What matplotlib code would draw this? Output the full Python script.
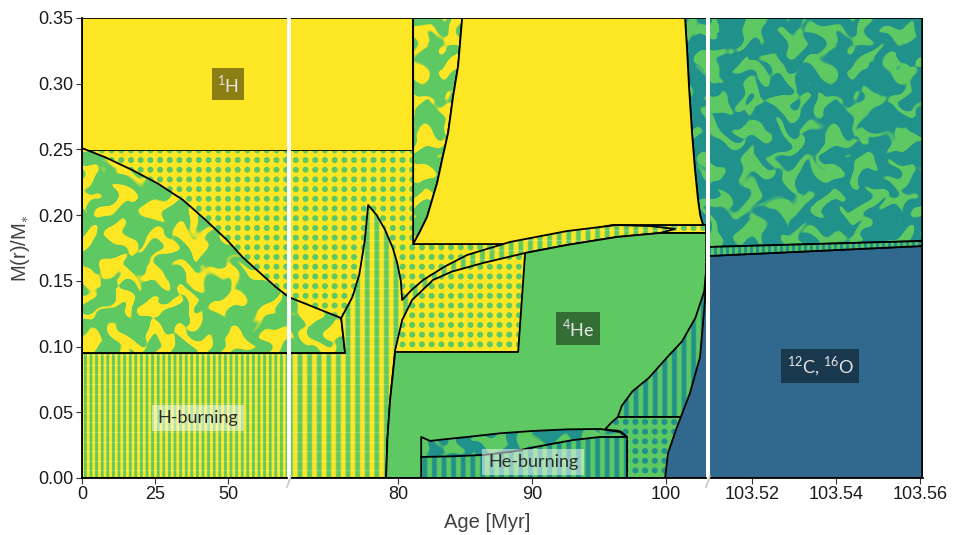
import numpy as np
import matplotlib
matplotlib.use("Agg")
import matplotlib.pyplot as plt
from matplotlib.patches import Polygon
from matplotlib.lines import Line2D
from matplotlib.colors import to_rgb

plt.rcParams['font.family'] = ['Liberation Sans', 'DejaVu Sans']
plt.rcParams['mathtext.fontset'] = 'custom'
plt.rcParams['mathtext.rm'] = 'Lato'

W, H = 956, 535
YELLOW, GREEN, TEAL, BLUE = '#FDE725', '#5EC962', '#21918C', '#31688E'

# broken age axis: three panels
panel_xlim = [(0.0, 70.2), (72.0, 102.985), (103.51, 103.5607)]
panel_ticks = [[0, 25, 50], [80, 90, 100], [103.52, 103.54, 103.56]]
panel_ticklabels = [['0', '25', '50'], ['80', '90', '100'], ['103.52', '103.54', '103.56']]
y_ticks = [0.00, 0.05, 0.10, 0.15, 0.20, 0.25, 0.30, 0.35]
X_END = 103.5605

# zone boundaries, (age [Myr], M(r)/M*)
h_env_base = 0.249
h_burn_top = 0.095
conv_h_top = [(0, 0.251), (8, 0.244), (17.5, 0.234), (26, 0.224), (34.6, 0.2115),
              (42, 0.197), (49.7, 0.181), (55, 0.168), (61, 0.156), (66, 0.146),
              (70, 0.139), (72, 0.137), (74.2, 0.128), (75.75, 0.1217)]
spike_left = [(75.75, 0.1217), (76.6, 0.138), (77.1, 0.155), (77.5, 0.18), (77.76, 0.2077)]
spike_right = [(77.76, 0.2077), (78.4, 0.200), (79.03, 0.1887), (79.6, 0.175),
               (79.93, 0.1636), (80.2, 0.150), (80.30, 0.1354)]
band_upper = [(80.30, 0.1354), (81.0, 0.143), (81.87, 0.1507), (83.5, 0.161), (85.15, 0.1697),
              (88.36, 0.1796), (92.61, 0.1879), (96.34, 0.1925), (98.81, 0.1917), (100.67, 0.1895)]
he_edge = [(100.67, 0.1895), (99.55, 0.1864), (96.34, 0.1834), (92.61, 0.1773), (89.48, 0.1712),
           (86.34, 0.1636), (84.0, 0.157), (82.61, 0.1507), (81.04, 0.1354), (80.30, 0.1202),
           (79.78, 0.0974), (79.40, 0.0593), (79.2, 0.03), (79.10, 0.0)]
he_left = [(79.10, 0.0), (79.2, 0.03), (79.40, 0.0593), (79.78, 0.0959)]
he_top = [(89.48, 0.1712), (92.61, 0.1773), (96.34, 0.1834), (99.55, 0.1864)]
yel_left = [(84.78, 0.35), (84.48, 0.3135), (84.1, 0.29), (83.73, 0.2625), (83.3, 0.243),
            (82.91, 0.2245), (82.16, 0.1986), (81.6, 0.187), (81.12, 0.178)]
yel_right = [(102.76, 0.1925), (102.55, 0.2), (102.39, 0.2115), (102.15, 0.236), (101.94, 0.2625),
             (101.72, 0.297), (101.57, 0.3256), (101.42, 0.35)]
co_shell = [(96.4, 0.0464), (96.7, 0.055), (97.5, 0.066), (98.7, 0.076), (100.1, 0.092),
            (101.2, 0.104), (102.2, 0.122), (102.85, 0.142), (103.0, 0.158)]
co_core = [(99.93, 0.0), (100.15, 0.019), (100.82, 0.0388), (101.79, 0.0647), (102.54, 0.0921),
           (102.91, 0.1354), (103.0, 0.163), (103.51, 0.169), (X_END, 0.1765)]
hb_top = [(81.72, 0.0312), (82.39, 0.0282), (83.5, 0.0295), (85.15, 0.0312), (87.6, 0.034),
          (90.07, 0.0358), (92.6, 0.0370), (95.07, 0.0373), (96.57, 0.035), (97.09, 0.0312)]
hb_split = [(81.72, 0.016), (84.0, 0.0165), (86.34, 0.0175), (88.5, 0.020), (90.6, 0.0243),
            (93.06, 0.0289), (95.07, 0.0312), (97.09, 0.0312)]

fig = plt.figure(figsize=(W / 100, H / 100), dpi=100)
axes = []
for (x0, w) in [(82, 205), (291, 415), (710, 213)]:
    axes.append(fig.add_axes([x0 / W, 57 / H, w / W, 460 / H]))
stripe_period = [5.6, 9.6, 6.0]


def marble(u, v):
    # smooth curly blobs from a gently warped sine field
    x = u / 6.5
    y = v / 6.5
    wx = x + 1.0 * np.sin(0.8 * y + 1.2 * np.sin(0.6 * x)) + 0.5 * np.sin(1.6 * y + 0.4)
    wy = y + 1.0 * np.cos(0.7 * x + 1.0 * np.cos(0.5 * y)) + 0.5 * np.cos(1.5 * x + 2.1)
    f = (np.sin(1.1 * wx + np.sin(1.4 * wy)) + np.cos(1.2 * wy - np.sin(1.3 * wx))
         + 0.5 * np.sin(0.8 * (wx + wy)))
    return np.clip((f - 0.3) * 3.0 + 0.5, 0, 1)


_cache = {}


def texture(i, kind, c1, c2):
    key = (i, kind, c1, c2)
    if key in _cache:
        return _cache[key]
    bb = axes[i].get_position()
    x0, y0 = bb.x0 * W, (1 - bb.y1) * H
    w, h = int(round(bb.width * W)), int(round(bb.height * H))
    u, v = np.meshgrid(np.arange(w) + x0 + 0.5, np.arange(h) + y0 + 0.5)
    if kind == 'dots':
        p = 9.7
        d = np.hypot(u % p - p / 2, v % p - p / 2)
        m = np.clip(3.0 - d + 0.5, 0, 1)
    elif kind == 'stripes':
        m = 0.5 + 0.5 * np.tanh(2.5 * np.sin(2 * np.pi * u / stripe_period[i]))
    else:
        m = marble(u, v)
    a, b = np.array(to_rgb(c1)), np.array(to_rgb(c2))
    img = a * (1 - m[..., None]) + b * m[..., None]
    if kind == 'stripes' and c1 == YELLOW:
        # faint horizontal sheen over the H-burning stripes
        line = ((v % 9.6) < 1.0)[..., None]
        img = np.where(line, img * 0.8 + 0.2, img)
    _cache[key] = img
    return img


zc = [1]


def region(pts, kind, c1, c2=None, edge=True):
    z = zc[0]
    zc[0] += 1
    xs = [p[0] for p in pts]
    for i, ax in enumerate(axes):
        lo, hi = panel_xlim[i]
        if max(xs) < lo or min(xs) > hi:
            continue
        poly = Polygon(pts, closed=True, fc=c1 if kind == 'solid' else 'none',
                       ec='black' if edge else 'none', lw=1.3, zorder=z, joinstyle='round')
        ax.add_patch(poly)
        if kind != 'solid':
            im = ax.imshow(texture(i, kind, c1, c2), extent=(lo, hi, 0, 0.35), origin='upper',
                           aspect='auto', interpolation='nearest', zorder=z - 0.01)
            im.set_clip_path(poly)


def outline(pts):
    z = zc[0]
    zc[0] += 1
    axes[1].plot([p[0] for p in pts], [p[1] for p in pts], color='black', lw=1.3, zorder=z,
                 solid_joinstyle='round')


# H-rich layers
region([(0, h_env_base), (81.12, h_env_base), (81.12, 0.35), (0, 0.35)], 'solid', YELLOW)
region([(0, h_burn_top), (0, h_env_base), (81.12, h_env_base), (81.12, 0.178), (90, 0.178),
        (90, h_burn_top)], 'dots', YELLOW, GREEN, edge=False)
region([(0, h_burn_top)] + conv_h_top + [(76.04, h_burn_top)], 'marble', GREEN, YELLOW)
# top-right convective envelope and dotted strip under the envelope
region([(101.42, 0.35)] + yel_right[::-1][1:] + [(103.0, 0.1925), (103.0, 0.162),
       (103.51, 0.1758), (X_END, 0.1803), (X_END, 0.35)], 'marble', TEAL, GREEN)
region([(99.0, 0.1864), (103.0, 0.1864), (103.0, 0.1925), (99.0, 0.1925)], 'dots', YELLOW, GREEN)
region([(81.12, 0.35)] + yel_left + [(81.12, 0.178)], 'marble', GREEN, YELLOW)
region(yel_left + [(88.5, 0.178), (96.0, 0.1925)] + yel_right, 'solid', YELLOW)
# H-burning zone, spike and shell band
region([(0, 0), (0, h_burn_top), (76.04, h_burn_top)] + spike_left + spike_right[1:]
       + band_upper[1:] + he_edge[1:], 'stripes', YELLOW, GREEN)
# helium core
region(he_left + [(88.96, 0.0959)] + he_top + [(103.0, 0.1864), (103.0, 0.0)], 'solid', GREEN)
region(co_shell + [(103.0, 0.0464)], 'stripes', GREEN, TEAL)
region([(97.09, 0), (97.09, 0.0312), (96.6, 0.0355), (95.45, 0.037), (95.9, 0.042),
        (96.4, 0.0464), (101.5, 0.0464), (101.5, 0)], 'dots', GREEN, TEAL)
# He-burning zone
region([(81.72, 0)] + hb_split + [(97.09, 0)], 'stripes', GREEN, TEAL, edge=False)
region(hb_top + hb_split[::-1], 'marble', TEAL, GREEN, edge=False)
outline(hb_split)
outline([(81.72, 0)] + hb_top + [(97.09, 0)])
# carbon-oxygen core
region(co_core + [(X_END, 0.0)], 'solid', BLUE)
region([(103.0, 0.163), (103.51, 0.169), (X_END, 0.1765), (X_END, 0.1803), (103.51, 0.1758),
        (103.0, 0.17)], 'stripes', GREEN, TEAL)

for i, ax in enumerate(axes):
    ax.set_xlim(*panel_xlim[i])
    ax.set_ylim(0, 0.35)
    ax.set_xticks(panel_ticks[i])
    ax.set_xticklabels(panel_ticklabels[i])
    for s in ['top', 'right', 'left']:
        ax.spines[s].set_visible(False)
    ax.spines['bottom'].set_linewidth(1.3)
    ax.spines['bottom'].set_zorder(50)
    ax.tick_params(axis='x', length=4, width=0.8, color='#333333', labelsize=13,
                   labelcolor='#1a1a1a', pad=2)
    if i == 0:
        ax.spines['left'].set_visible(True)
        ax.spines['left'].set_linewidth(1.3)
        ax.spines['left'].set_zorder(50)
        ax.set_yticks(y_ticks)
        ax.set_yticklabels(['%.2f' % t for t in y_ticks])
        ax.tick_params(axis='y', length=4, width=0.8, color='#333333', labelsize=13,
                       labelcolor='#1a1a1a', pad=2)
    else:
        ax.set_yticks([])

# region labels
lab = dict(ha='center', va='center', fontsize=13, family=['Lato', 'DejaVu Sans'], zorder=60)
dark_box = dict(boxstyle='square,pad=0.3', fc='black', ec='none', alpha=0.45)
light_box = dict(boxstyle='square,pad=0.3', fc='white', ec='none', alpha=0.5)
axes[0].text(50, 0.2998, '$^{1}$H', color='#e6e6e6', bbox=dark_box, **lab)
axes[1].text(93.43, 0.114, '$^{4}$He', color='#e6e6e6', bbox=dark_box, **lab)
axes[2].text(103.5362, 0.0852, '$^{12}$C, $^{16}$O', color='#e6e6e6', bbox=dark_box, **lab)
axes[0].text(39.7, 0.0457, 'H-burning', color='#2b2b2b', bbox=light_box, **lab)
axes[1].text(90.07, 0.0122, 'He-burning', color='#2b2b2b', bbox=light_box, **lab)

# axis-break marks
for px in [289, 708]:
    fig.add_artist(Line2D([(px - 2) / W, (px + 2) / W], [1 - 487 / H, 1 - 476 / H],
                          color='#c8c8c8', lw=1.2))

fig.text(487 / W, 1 - 522 / H, 'Age [Myr]', ha='center', va='center', fontsize=14.5,
         color='#404040')
fig.text(20 / W, 1 - 248 / H, r'M(r)/M$_{\ast}$', ha='center', va='center', rotation=90,
         fontsize=14.5, color='#404040')

fig.savefig('out.png', dpi=100)
